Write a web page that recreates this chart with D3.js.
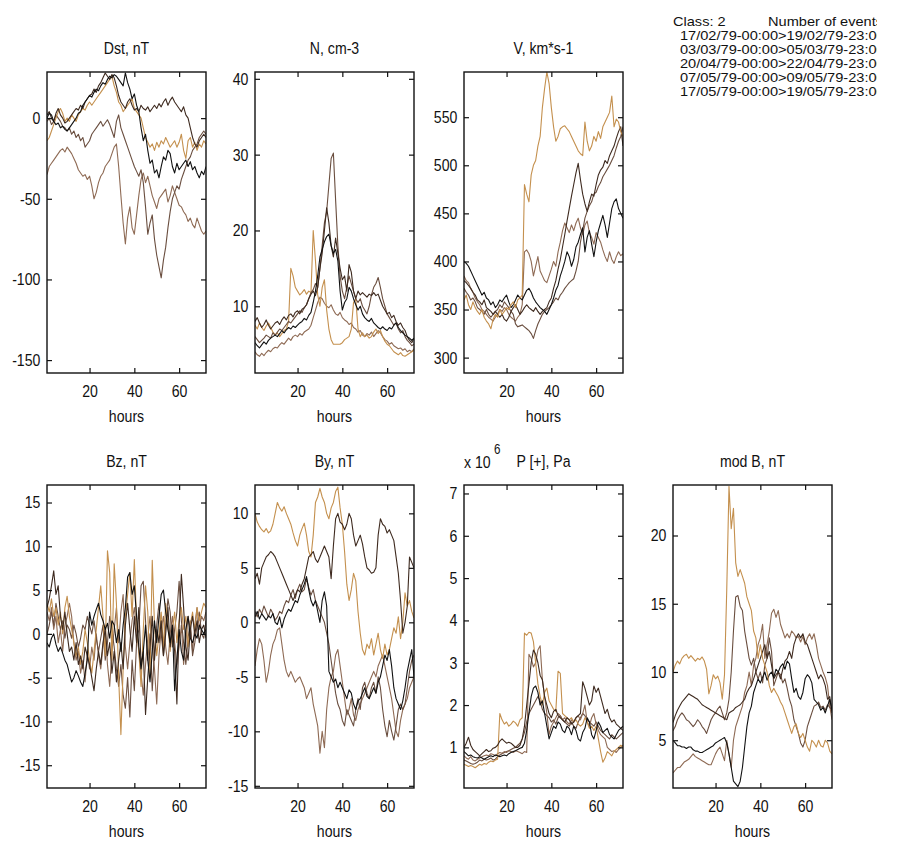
<!DOCTYPE html>
<html>
<head>
<meta charset="utf-8">
<script src="https://cdn.jsdelivr.net/npm/d3@7"></script>
<style>
  body { margin: 0; background: #fff; }
  svg text { font-family: "Liberation Sans", Arial, sans-serif; fill: #111; }
</style>
</head>
<body>
<svg id="chart" width="907" height="841"></svg>
<script>
// hours of the event window
const hours = d3.range(1, 73);

// line colours (copper-like ramp, one per event)
const colBlack = "#111111", colDark = "#3e2a1f", colMid = "#6a4e3f", colLight = "#8e6a54", colTan = "#c4904e";

// ---- Dst, nT
const dstBlack = [0,3,2,-2,-4,-3,-6,-5,-7,-8, -6,-4,-2,0,3,4,8,10,12,14, 13,16,18,17,20,22,21,24,26,25, 27,26,24,22,20,28,22,18,12,15, 8,4,-6,-14,-10,-20,-28,-26,-34,-32, -37,-30,-24,-26,-20,-22,-30,-34,-28,-32, -30,-28,-26,-30,-27,-32,-30,-34,-37,-33, -35,-30];
const dstDark = [2,4,0,-2,3,6,2,0,-3,-2, 0,2,4,6,5,8,6,10,12,14, 15,18,16,20,22,25,28,26,24,27, 25,20,14,10,8,6,10,12,8,5, 6,4,8,6,5,7,4,6,8,6, 9,7,10,12,8,11,13,10,8,6, 4,7,2,0,-6,-12,-16,-18,-14,-12, -10,-12];
const dstTan = [-14,-12,-8,-4,0,4,6,3,-2,0, -2,2,0,-2,2,4,6,5,8,10, 8,10,12,14,16,18,20,22,24,26, 20,16,10,8,4,6,8,10,12,6, 4,2,0,-6,-12,-15,-18,-16,-20,-15, -18,-14,-16,-12,-15,-18,-16,-14,-18,-15, -10,-20,-25,-14,-12,-18,-15,-20,-16,-18, -14,-16];
const dstMid = [-2,0,-4,-2,2,0,-2,-5,-6,-8, -6,-10,-8,-12,-10,-14,-12,-18,-16,-14, -10,-8,-6,-4,-2,-5,-3,-1,-4,-8, -12,-2,2,-6,-10,-14,-18,-22,-26,-30, -33,-36,-32,-40,-55,-72,-65,-60,-75,-85, -92,-99,-88,-80,-68,-58,-50,-46,-42,-44, -38,-34,-30,-26,-24,-20,-18,-16,-12,-10, -8,-10];
const dstLight = [-35,-30,-28,-26,-24,-22,-20,-19,-21,-18, -20,-22,-25,-28,-32,-34,-36,-35,-38,-36, -42,-50,-46,-40,-36,-34,-30,-28,-26,-22, -18,-16,-30,-48,-65,-78,-62,-55,-68,-72, -60,-48,-38,-34,-40,-36,-42,-48,-52,-56, -50,-48,-46,-44,-52,-48,-42,-46,-50,-54, -55,-58,-60,-64,-62,-66,-68,-62,-66,-70, -72,-70];

// ---- N, cm-3
const nBlack = [5.2,4.8,4.5,4.9,5.3,5.0,5.5,5.8,6.0,6.2, 6.0,6.4,6.8,6.5,6.9,7.2,7.0,7.4,7.2,7.5, 7.8,8.0,8.4,8.2,8.8,9.2,10.5,12.0,14.0,16.5, 17.5,18.5,19.2,19.5,18.0,17.0,17.5,16.0,12.0,9.5, 10.5,11.0,12.5,12.0,11.0,10.2,9.5,10.0,9.0,8.5, 8.2,8.0,8.4,7.8,7.5,7.2,7.0,7.3,7.0,6.8, 7.2,7.0,7.5,7.8,7.2,6.8,6.5,6.2,6.0,5.8, 5.5,5.8];
const nDark = [8.0,8.5,7.8,7.2,7.6,8.2,7.5,7.0,7.4,7.8, 8.0,7.6,8.2,8.6,8.2,8.8,9.0,8.6,9.2,9.4, 9.0,9.6,9.8,10.2,11.0,11.6,12.0,11.4,12.5,15.0, 17.0,20.0,23.0,21.0,18.0,16.5,19.0,17.0,15.0,13.5, 14.0,12.0,15.5,14.5,12.0,11.0,12.0,11.5,11.8,11.5, 11.2,11.6,11.4,11.8,11.4,11.6,10.8,10.0,9.5,9.0, 9.2,8.5,8.8,8.0,7.5,7.8,7.2,6.8,6.0,5.5, 5.2,5.8];
const nMid = [6.0,5.6,5.2,5.5,5.8,6.2,6.0,5.8,6.5,6.2, 6.6,7.0,6.8,7.2,7.6,8.0,7.8,8.2,8.6,9.0, 9.4,9.2,9.8,10.2,11.0,11.8,12.2,13.0,12.5,15.0, 18.0,21.0,22.5,26.0,29.5,30.2,24.0,18.0,14.0,12.0, 11.0,12.5,14.0,13.0,12.0,11.0,10.5,11.0,10.0,9.5, 9.0,10.0,11.5,12.5,13.0,13.8,12.5,11.0,10.0,9.0, 8.5,8.0,7.5,7.8,7.0,6.5,6.8,6.0,5.5,5.2, 4.8,5.0];
const nLight = [4.0,3.6,3.4,3.8,3.5,3.9,4.2,4.0,4.4,4.6, 4.5,4.9,5.2,5.0,5.4,5.8,5.5,6.0,6.2,6.0, 6.4,6.2,6.6,6.8,7.0,7.5,8.5,9.5,10.5,11.2, 11.0,10.4,10.0,9.8,10.2,9.5,9.0,8.8,9.2,8.5, 8.2,8.0,7.6,7.8,7.2,7.0,6.6,6.8,6.2,6.0, 6.4,6.2,6.6,6.0,6.4,6.8,6.5,6.0,5.6,5.4, 5.0,5.2,4.8,4.6,4.4,4.5,4.2,4.4,4.0,4.2, 4.0,4.4];
const nTan = [7.5,7.0,7.8,7.2,6.8,7.4,7.8,7.2,6.6,6.2, 6.5,6.0,6.4,6.8,7.0,8.0,15.0,14.0,12.5,12.0, 11.5,11.8,12.2,11.6,12.0,11.8,20.0,16.0,11.5,10.0, 12.5,13.5,9.5,7.0,5.6,5.0,5.0,5.0,5.0,5.2, 5.6,5.8,6.0,7.0,10.5,11.0,7.0,6.0,6.5,6.0, 6.2,5.8,6.0,6.6,7.0,6.4,6.8,6.0,5.4,5.0, 4.8,4.4,4.0,3.8,3.6,3.9,3.5,3.4,3.6,3.8, 4.0,4.2];

// ---- V, km*s-1
const vBlack = [400,398,395,390,385,380,375,370,365,368, 362,360,355,358,352,355,360,358,362,365, 358,352,355,360,365,362,360,365,370,372, 368,362,358,355,352,350,348,345,350,355, 362,370,375,385,392,400,410,405,395,402, 415,420,428,435,410,425,432,418,405,420, 432,440,448,438,425,440,455,462,465,455, 450,445];
const vDark = [380,378,375,372,368,365,360,358,355,360, 352,350,348,345,348,345,342,345,340,338, 342,348,352,355,350,345,348,352,355,352, 350,348,352,348,345,348,350,352,358,362, 372,380,392,402,415,428,442,455,468,480, 492,502,485,470,460,452,462,470,468,480, 490,495,498,505,502,510,515,520,528,535, 540,520];
const vMid = [372,368,365,360,362,358,352,350,348,345, 350,345,342,345,348,350,355,352,358,355, 352,348,345,335,332,333,334,332,330,328, 325,320,328,335,340,345,348,350,352,355, 358,362,360,365,368,372,375,378,380,382, 390,400,420,432,445,452,458,462,470,472, 478,482,488,492,496,500,505,510,518,525, 530,540];
const vLight = [385,380,378,372,368,362,358,355,350,348, 345,342,340,338,342,345,350,348,352,350, 345,342,340,338,342,345,355,410,412,408, 400,385,395,405,390,385,380,378,385,392, 400,395,410,420,432,440,435,430,438,432, 440,445,435,428,438,442,430,425,418,430, 425,420,412,405,400,410,402,398,405,410, 406,408];
const vTan = [360,365,355,350,358,352,348,345,350,342, 338,335,330,340,345,342,350,345,348,352, 350,355,358,352,360,362,365,480,470,462, 490,500,505,520,530,560,580,597,585,560, 540,525,530,538,540,541,538,535,530,525, 520,515,512,510,545,525,515,520,530,525, 535,528,540,545,550,555,572,540,548,545, 535,530];

// ---- Bz, nT
const bzBlack = [-1.0,-1.5,-0.5,0.0,-1.2,-2.0,-1.5,-2.2,-3.0,-3.5, -4.5,-5.5,-5.0,-4.2,-4.8,-5.5,-6.0,-4.5,-3.0,2.5, 1.0,2.0,2.8,3.5,2.2,1.5,0.5,1.2,-0.5,1.5, 1.0,-1.0,0.5,-2.0,1.0,3.0,6.5,7.0,4.5,5.5, 2.0,-1.5,-4.0,-2.0,1.0,-3.0,-5.5,-2.0,1.5,-1.0, 2.0,4.5,5.0,2.5,0.5,-1.0,1.0,-6.5,-3.0,0.5, -2.0,-3.0,0.5,2.0,-0.5,-1.0,0.0,-0.5,1.0,0.5, 0.0,0.5];
const bzDark = [3.0,4.0,5.5,7.2,4.5,5.5,2.0,0.5,2.5,0.0, -2.0,-1.5,-3.0,-1.0,-3.5,-2.5,-4.0,-1.5,-2.5,-3.5, -5.0,-6.5,-4.0,-2.0,-3.5,-1.0,0.5,-2.5,-1.0,-4.5, -2.0,-5.5,-3.0,-1.0,-4.0,1.0,3.5,0.5,-2.0,2.0, -1.0,3.0,-3.5,-2.0,-9.2,-5.0,-1.5,2.0,-3.0,0.5, -1.0,1.5,-2.5,0.0,3.0,-1.5,0.5,-2.0,-8.0,1.0, 6.8,3.0,-1.5,-3.0,0.5,2.0,0.0,1.5,-1.0,0.5, 1.0,-0.5];
const bzMid = [0.0,1.0,2.5,1.0,3.5,2.0,0.5,1.5,-0.5,1.0, 0.5,-0.5,1.0,0.0,-1.5,-0.5,1.0,0.5,2.0,1.0, 0.0,1.5,-0.5,-2.0,-0.5,1.0,-3.0,-1.0,2.0,0.5, -1.5,-4.0,-6.0,-3.5,-7.0,-8.5,-5.0,-9.5,-3.0,-6.5, -1.0,0.5,5.5,6.0,1.5,-3.0,0.0,-6.5,-2.0,1.0, 3.5,0.0,-2.5,1.0,4.0,2.5,-1.5,0.5,2.5,6.0, 1.5,-1.0,-3.5,-0.5,1.5,-2.5,-1.0,1.0,2.5,0.0, -0.5,1.5];
const bzLight = [2.5,1.5,3.0,0.5,2.0,-1.0,0.5,-2.0,1.0,2.0, 3.5,2.0,-1.0,-3.0,-2.0,-4.5,-3.0,-5.5,-2.0,-4.0, -1.5,-3.0,0.0,-2.5,-4.0,-1.5,1.0,-3.5,-6.0,-2.0, 0.5,3.0,-1.0,2.5,4.5,-1.5,-4.0,-1.0,1.5,3.0, 0.5,-2.0,-4.5,-7.0,-3.5,-0.5,2.0,-1.5,-4.0,-8.0, -2.5,0.5,2.0,-1.5,-3.5,0.0,2.0,-1.0,-3.5,-1.5, 1.0,-3.5,-1.0,2.0,0.5,-2.0,1.0,3.0,0.5,2.0, 1.5,2.5];
const bzTan = [3.5,2.5,4.0,2.0,3.0,1.0,2.5,0.0,3.0,4.3, 2.0,0.5,-1.0,-2.5,-1.5,-3.5,-2.0,0.5,-1.0,-3.0, -4.5,-2.0,0.5,3.0,5.5,2.0,-2.5,9.5,7.0,-3.0, 8.0,3.5,-5.0,-11.5,-4.0,2.0,4.5,7.0,2.0,8.5, 1.5,-2.0,-6.0,0.5,5.5,2.5,-5.0,8.4,1.0,-2.5, 0.0,2.5,-1.5,3.5,1.0,-2.0,0.5,2.5,-1.0,1.5, 3.0,0.5,2.0,-1.5,1.0,2.5,0.0,3.0,1.5,2.5, 3.5,3.0];

// ---- By, nT
const byBlack = [0.5,1.0,0.3,0.8,0.5,0.2,0.6,0.4,0.8,0.0, -0.2,0.5,-0.5,0.3,0.8,1.2,1.0,1.5,2.0,1.8, 2.5,3.0,3.5,4.2,3.0,2.0,1.5,2.0,1.0,0.0, 2.0,2.8,1.5,-4.5,-5.0,-5.5,-5.2,-6.0,-5.5,-6.0, -6.5,-7.0,-6.2,-6.5,-7.5,-8.0,-7.2,-7.0,-6.5,-6.0, -6.8,-7.0,-6.5,-6.0,-6.5,-5.5,-5.0,-4.0,-3.0,-3.5, -2.5,-4.0,-6.0,-7.0,-7.5,-8.0,-7.2,-6.0,-4.5,-3.5, -2.5,-5.0];
const byDark = [4.0,4.5,3.5,5.0,5.5,6.0,6.2,6.5,6.3,6.0, 5.5,5.0,4.5,4.0,3.5,3.0,2.5,2.0,2.5,3.0, 2.8,3.5,4.0,5.0,6.0,6.2,6.5,5.8,5.5,6.0, 6.5,7.0,6.5,6.0,4.0,7.0,9.5,10.0,9.2,9.0, 8.5,9.0,10.0,9.5,8.0,7.0,7.5,8.0,7.2,6.0, 5.0,4.8,4.5,4.6,5.0,8.0,9.5,9.0,8.8,8.2, 8.5,8.0,7.5,6.0,4.5,2.0,-1.0,0.0,1.5,6.0, 5.5,5.0];
const byMid = [1.0,0.5,1.2,0.8,1.5,1.0,0.5,1.2,0.8,0.2, 0.5,1.0,0.8,1.5,2.0,1.8,2.5,3.0,2.2,3.0, 3.5,2.8,3.0,4.0,3.2,2.5,3.0,2.0,1.5,1.0, 0.5,0.0,-1.0,-2.0,-3.5,-5.0,-6.5,-7.5,-8.0,-9.0, -9.5,-8.0,-8.5,-9.0,-9.5,-8.0,-7.0,-8.0,-6.0,-5.5, -6.5,-7.0,-6.0,-5.5,-6.5,-5.0,-6.0,-8.0,-9.5,-10.5, -9.0,-10.0,-10.8,-9.5,-8.0,-7.5,-8.0,-7.5,-6.0,-4.5, -3.5,-3.0];
const byLight = [-4.0,-2.5,-1.5,-2.0,-3.5,-5.5,-4.5,-3.0,-2.0,-1.5, -0.7,-0.5,-2.0,-3.5,-4.5,-5.0,-4.5,-5.0,-5.5,-5.2, -5.0,-5.5,-6.0,-7.0,-6.5,-6.0,-7.5,-8.5,-9.5,-12.0, -10.0,-11.5,-8.0,-6.0,-5.0,-4.5,-3.0,-2.5,-4.0,-5.5, -7.0,-8.5,-8.0,-7.0,-8.5,-9.0,-8.0,-7.5,-7.0,-6.5, -6.0,-5.5,-5.0,-4.5,-5.0,-4.0,-3.5,-3.0,-4.0,-5.0, -6.0,-7.0,-8.5,-10.0,-10.5,-9.0,-8.0,-7.5,-7.0,-6.0, -5.5,-5.0];
const byTan = [10.0,9.2,8.8,8.5,8.3,8.6,8.2,8.4,9.0,10.0, 11.0,10.5,10.2,10.6,10.0,9.5,9.0,8.2,7.5,7.0, 8.0,8.6,9.1,8.0,6.5,6.0,8.0,11.0,11.5,12.3, 11.5,11.0,10.0,9.5,10.5,11.0,12.0,12.4,10.5,9.0, 6.5,3.5,2.0,3.0,4.5,3.8,1.0,-1.0,-2.5,-3.0, -2.0,-2.4,-1.5,-3.0,-2.0,-1.0,-2.5,-3.3,-2.0,-3.0, -2.5,-1.5,-0.5,-1.0,0.5,-1.5,0.0,2.7,1.5,2.0, 1.0,0.4];

// ---- P [+], Pa (x 10^6)
const pBlack = [0.90,0.85,0.80,0.82,0.78,0.76,0.75,0.78,0.75,0.72, 0.75,0.78,0.80,0.78,0.82,0.80,0.78,0.80,0.82,0.80, 0.85,0.88,0.90,0.92,0.95,0.98,1.00,1.10,1.40,1.80, 2.20,2.40,2.45,2.30,2.00,2.10,1.80,1.50,1.20,1.35, 1.50,1.45,1.60,1.55,1.40,1.35,1.50,1.45,1.30,1.50, 1.40,1.20,1.15,1.35,1.45,1.70,1.60,1.30,1.20,1.40, 1.60,1.50,1.35,1.40,1.45,1.30,1.25,1.20,1.30,1.40, 1.45,1.50];
const pDark = [1.00,1.10,1.24,1.05,0.95,0.90,0.85,0.80,0.85,0.90, 0.95,0.90,0.92,0.98,1.00,1.05,1.15,1.20,1.15,1.10, 1.12,1.10,1.05,1.00,1.00,1.05,1.20,1.50,2.00,2.50, 3.00,3.30,3.20,3.00,2.70,2.60,2.20,2.00,1.80,1.70, 1.85,1.90,1.75,1.70,1.65,1.60,1.70,1.65,1.55,1.60, 1.70,1.75,1.80,2.55,2.40,2.20,2.00,2.10,2.45,2.30, 2.40,2.20,2.00,1.80,1.90,1.70,1.60,1.65,1.55,1.50, 1.45,1.40];
const pMid = [0.70,0.68,0.65,0.62,0.60,0.62,0.65,0.70,0.68,0.72, 0.70,0.72,0.75,0.70,0.72,0.78,0.82,0.85,0.88,0.90, 0.92,0.95,0.98,1.00,1.05,1.10,1.20,1.35,1.60,1.80, 1.90,2.00,2.10,2.20,2.10,1.90,1.80,1.75,1.70,1.60, 1.65,1.55,1.70,1.75,1.65,1.60,1.55,1.50,1.60,1.50, 1.45,1.60,1.70,1.80,1.75,1.65,1.60,1.55,1.50,1.60, 1.50,1.40,1.35,1.30,1.25,1.20,1.30,1.25,1.20,1.25, 1.30,1.35];
const pLight = [0.80,0.75,0.72,0.78,0.70,0.68,0.72,0.75,0.78,0.80, 0.82,0.80,0.85,0.83,0.80,0.85,0.88,0.86,0.90,0.88, 0.92,0.90,0.88,0.92,0.90,0.88,0.85,0.90,0.88,3.20, 3.10,2.90,3.00,3.30,3.40,2.60,2.20,1.80,1.30,1.50, 1.60,1.70,1.80,1.75,1.65,1.70,1.60,1.55,1.65,1.60, 1.70,1.75,1.65,1.80,2.00,1.60,1.50,1.70,1.80,1.55, 1.40,1.30,1.25,1.20,1.00,0.95,0.90,0.92,0.88,0.95, 1.00,1.05];
const pTan = [0.60,0.58,0.55,0.57,0.55,0.52,0.56,0.60,0.58,0.62, 0.60,0.65,0.68,0.66,0.70,0.72,1.80,1.65,1.55,1.60, 1.50,1.55,1.62,1.58,1.50,1.65,1.70,3.70,3.65,3.72, 3.70,3.50,3.00,2.50,2.20,2.00,2.30,2.40,2.10,2.00, 1.90,1.85,2.80,2.75,1.80,1.75,1.70,1.65,1.70,1.60, 1.65,1.55,1.50,1.55,1.70,1.60,1.45,1.50,1.40,1.50, 1.20,0.90,0.65,0.75,0.90,0.85,0.80,0.90,0.95,1.00, 1.05,1.00];

// ---- mod B, nT
const bBlack = [5.0,4.8,4.6,4.6,4.5,4.5,4.4,4.5,4.5,4.3, 4.2,4.2,4.1,4.1,4.2,4.3,4.4,4.5,4.6,4.8, 4.9,5.0,5.1,5.2,4.8,4.0,3.0,2.0,1.8,1.6, 2.0,3.0,4.5,6.0,7.0,7.5,8.5,9.0,9.5,9.2, 9.6,10.0,9.4,9.8,10.0,9.6,10.2,10.0,10.4,10.6, 10.2,10.8,10.6,9.5,8.5,8.8,8.2,8.0,8.5,9.5, 9.8,9.6,9.2,8.0,7.8,7.6,7.2,7.4,7.0,7.5, 8.0,7.2];
const bDark = [6.3,6.8,7.2,7.5,7.8,8.0,8.2,8.4,8.3,8.2, 8.1,8.0,7.8,7.6,7.5,7.4,7.3,7.2,7.1,7.0, 6.9,6.8,6.7,6.6,6.5,7.0,7.1,7.2,7.4,7.5, 7.6,7.8,8.0,8.5,8.8,9.0,9.5,10.0,10.5,11.0, 11.5,12.0,11.0,11.5,10.5,9.5,9.8,10.0,9.5,10.2, 10.8,11.0,11.5,11.0,12.0,12.5,12.8,12.5,12.8,12.2, 12.0,11.5,11.0,10.5,10.0,9.5,9.8,9.5,9.0,8.0, 8.2,7.0];
const bMid = [5.7,6.0,6.5,6.8,7.0,6.8,6.5,6.4,6.2,6.0, 6.2,6.5,6.3,6.0,5.8,5.5,6.0,6.5,6.8,7.0, 7.3,7.5,7.0,6.5,7.0,8.0,10.0,13.0,15.5,15.6, 14.8,14.5,13.0,12.0,11.0,10.5,11.0,10.0,9.5,10.0, 9.2,10.5,11.0,12.5,11.5,9.0,9.5,10.0,9.8,9.2, 9.5,8.8,8.0,7.5,6.5,6.0,5.5,4.8,4.5,5.0, 6.0,6.5,7.0,7.5,7.6,7.8,7.4,7.5,7.2,7.6, 7.4,7.2];
const bLight = [2.6,2.8,3.0,3.0,3.2,3.4,3.5,3.6,3.8,4.0, 3.8,3.7,3.6,3.5,3.4,3.3,3.2,3.2,3.6,4.0, 4.3,4.5,4.0,3.5,5.0,4.0,3.0,5.0,6.0,6.5, 7.0,7.5,8.5,9.0,10.0,9.0,10.5,11.0,12.0,12.5, 13.5,11.0,12.0,13.0,14.3,14.6,14.0,14.5,13.5,13.0, 12.5,12.8,12.5,13.0,12.8,12.5,12.6,12.2,12.6,12.0, 12.5,12.8,12.4,12.8,12.0,11.0,10.5,10.0,9.6,9.0, 7.5,6.5];
const bTan = [10.0,10.5,10.8,10.6,11.0,11.2,11.3,11.0,11.2,11.0, 10.8,11.0,10.9,11.1,10.8,10.2,8.4,9.0,9.8,9.5, 9.7,9.2,8.0,9.8,16.0,23.6,20.5,22.0,18.0,17.0, 17.5,17.0,16.5,15.5,15.0,14.5,13.0,12.5,11.0,12.0, 11.0,10.5,10.0,9.0,8.5,8.8,8.5,8.2,7.8,7.5, 7.0,6.5,6.0,5.5,6.0,6.2,5.5,5.2,5.5,5.0, 4.5,4.2,5.0,4.8,4.5,5.0,4.6,4.5,5.0,4.8, 4.2,4.0];

// panel layout + axis limits / tick values
const colX = [47, 255, 464, 673];
const rowY = [[72, 373], [485, 788]];
const panelW = 159;

const panels = [
  { title: "Dst, nT", col: 0, row: 0, yDomain: [-158, 28.6], yTicks: [-150, -100, -50, 0],
    series: [[dstLight, colLight], [dstMid, colMid], [dstTan, colTan], [dstDark, colDark], [dstBlack, colBlack]] },
  { title: "N, cm-3", col: 1, row: 0, yDomain: [1.2, 40.9], yTicks: [10, 20, 30, 40],
    series: [[nLight, colLight], [nTan, colTan], [nMid, colMid], [nDark, colDark], [nBlack, colBlack]] },
  { title: "V, km*s-1", col: 2, row: 0, yDomain: [284, 597], yTicks: [300, 350, 400, 450, 500, 550],
    series: [[vLight, colLight], [vMid, colMid], [vDark, colDark], [vBlack, colBlack], [vTan, colTan]] },
  { title: "Bz, nT", col: 0, row: 1, yDomain: [-17.6, 17], yTicks: [-15, -10, -5, 0, 5, 10, 15],
    series: [[bzLight, colLight], [bzMid, colMid], [bzTan, colTan], [bzDark, colDark], [bzBlack, colBlack]] },
  { title: "By, nT", col: 1, row: 1, yDomain: [-15.2, 12.6], yTicks: [-15, -10, -5, 0, 5, 10],
    series: [[byLight, colLight], [byMid, colMid], [byTan, colTan], [byDark, colDark], [byBlack, colBlack]] },
  { title: "P [+], Pa", col: 2, row: 1, yDomain: [0.04, 7.2], yTicks: [1, 2, 3, 4, 5, 6, 7], expo: "6",
    series: [[pMid, colMid], [pLight, colLight], [pTan, colTan], [pDark, colDark], [pBlack, colBlack]] },
  { title: "mod B, nT", col: 3, row: 1, yDomain: [1.5, 23.7], yTicks: [5, 10, 15, 20],
    series: [[bLight, colLight], [bMid, colMid], [bDark, colDark], [bBlack, colBlack], [bTan, colTan]] }
];

const xTicks = [20, 40, 60];

const legendHead = ["Class: 2", "Number of events: 5"];
const legendDates = [
  "17/02/79-00:00>19/02/79-23:00",
  "03/03/79-00:00>05/03/79-23:00",
  "20/04/79-00:00>22/04/79-23:00",
  "07/05/79-00:00>09/05/79-23:00",
  "17/05/79-00:00>19/05/79-23:00"
];

const svg = d3.select("#chart");
svg.append("rect").attr("width", 907).attr("height", 841).attr("fill", "#fff");
const tick = 5;
const squeeze = 0.83;   // the source font is a narrow face
const fs = 17;

// horizontally scaled text placed at (x, y)
function narrowText(parent, x, y, str, size, anchor, sx) {
  return parent.append("text")
    .attr("transform", `translate(${x},${y}) scale(${sx || squeeze},1)`)
    .attr("text-anchor", anchor || "middle")
    .attr("font-size", size)
    .text(str);
}

panels.forEach((p, i) => {
  const left = colX[p.col], top = rowY[p.row][0], bottom = rowY[p.row][1];
  const h = bottom - top;
  const g = svg.append("g").attr("transform", `translate(${left},${top})`);

  const x = d3.scaleLinear().domain([1, 72]).range([0, panelW]);
  const y = d3.scaleLinear().domain(p.yDomain).range([h, 0]);

  g.append("clipPath").attr("id", "clip" + i)
    .append("rect").attr("width", panelW).attr("height", h);

  const line = d3.line().x((d, j) => x(hours[j])).y(d => y(d));
  p.series.forEach(([vals, color]) => {
    g.append("path")
      .datum(vals)
      .attr("clip-path", `url(#clip${i})`)
      .attr("fill", "none")
      .attr("stroke", color)
      .attr("stroke-width", 1.1)
      .attr("stroke-linejoin", "round")
      .attr("d", line);
  });

  // axes, ticks pointing inwards on every side
  const fmt = d => String(d);
  const yl = g.append("g").call(d3.axisLeft(y).tickValues(p.yTicks).tickSize(-tick).tickPadding(8).tickFormat(fmt));
  const yr = g.append("g").attr("transform", `translate(${panelW},0)`)
    .call(d3.axisRight(y).tickValues(p.yTicks).tickSize(-tick).tickFormat(""));
  const xb = g.append("g").attr("transform", `translate(0,${h})`)
    .call(d3.axisBottom(x).tickValues(xTicks).tickSize(-tick).tickPadding(12).tickFormat(fmt));
  const xt = g.append("g")
    .call(d3.axisTop(x).tickValues(xTicks).tickSize(-tick).tickFormat(""));
  [yl, yr, xb, xt].forEach(a => {
    a.select(".domain").remove();
    a.selectAll("line").attr("stroke", "#111").attr("stroke-width", 1.2);
    a.selectAll("text").attr("font-size", fs).attr("font-family", null).attr("fill", "#111")
      .attr("transform", `scale(${squeeze},1)`);
  });

  g.append("rect").attr("width", panelW).attr("height", h)
    .attr("fill", "none").attr("stroke", "#111").attr("stroke-width", 1.4);

  narrowText(g, panelW / 2, -18, p.title, fs);
  narrowText(g, panelW / 2, h + 49, "hours", fs);

  if (p.expo) {
    narrowText(g, 0, -17, "x 10", fs, "start");
    narrowText(g, 30, -31, p.expo, 14, "start");
  }
});

// legend block, cut at the right edge like the source image
svg.append("clipPath").attr("id", "legclip")
  .append("rect").attr("x", 600).attr("y", 0).attr("width", 277).attr("height", 120);
const leg = svg.append("g").attr("clip-path", "url(#legclip)");
narrowText(leg, 673, 26, legendHead[0], 13.5, "start", 1.08);
narrowText(leg, 768, 26, legendHead[1], 13.5, "start", 1.08);
legendDates.forEach((d, i) => narrowText(leg, 680, 40 + i * 14, d, 13.5, "start", 1.08));
</script>
</body>
</html>
